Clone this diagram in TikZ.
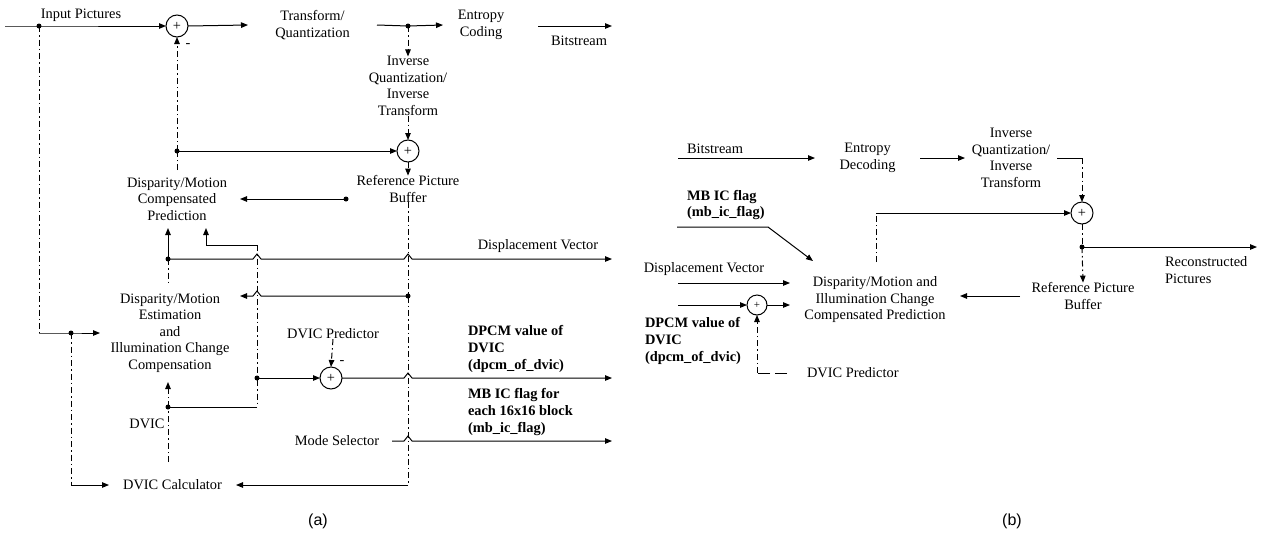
\documentclass[tikz,border=0pt]{standalone}
\usepackage{fontspec}
\setmainfont{Liberation Serif}
\newfontfamily\labsans{Liberation Sans}
\usetikzlibrary{arrows.meta}
\begin{document}
\begin{tikzpicture}[x=1pt,y=-1pt,
  every node/.style={font=\fontsize{14.4}{16.5}\selectfont, inner sep=0pt, outer sep=0pt},
  lbl/.style={align=center},
  bl/.style={align=left, anchor=west, font=\fontsize{14.4}{16.8}\selectfont\bfseries},
  ln/.style={line width=1pt},
  arr/.style={line width=1pt, -{Triangle[length=7pt,width=5.5pt]}},
  dd/.style={dash pattern=on 6pt off 3pt on 1.5pt off 3pt},
  jdot/.style={circle, fill, minimum size=5pt, inner sep=0pt},
  sumc/.style={circle, draw, line width=1pt, minimum size=22pt, inner sep=0pt},
  sublbl/.style={font=\labsans\fontsize{16}{18}\selectfont}
]
\useasboundingbox (0,0) rectangle (1263,544);

% ================= (a) =================
\coordinate (inL) at (5,26);
\node[jdot] (j0) at (39,26) {};
\node[lbl] (inp) at (81,15) {Input Pictures};
\node[sumc] (s1) at (177,26) {+};
\node (m1) at (188,46) {-};
\node[lbl, minimum width=129, minimum height=40] (tq) at (312.5,25) {Transform/\\Quantization};
\node[jdot] (j1) at (408,26) {};
\node[lbl, minimum width=76, minimum height=40] (ec) at (481,25) {Entropy\\Coding};
\coordinate (bsS) at (538,26);
\coordinate (bsE) at (612,26);
\node[lbl] (bs) at (579,41) {Bitstream};
\node[lbl] (iq) at (408,86) {Inverse\\Quantization/\\Inverse\\Transform};
\node[sumc] (s2) at (408,151) {+};
\node[lbl] (rpb) at (408,189) {Reference Picture\\Buffer};
\node[jdot] (j2) at (177,151) {};
\node[jdot] (j3) at (346,199) {};
\node[lbl, minimum width=126, minimum height=58] (dmcp) at (177,199) {Disparity/Motion\\Compensated\\Prediction};
\node[jdot] (j4) at (168,259) {};
\coordinate (h1) at (206,245);
\coordinate (h2) at (257,245);
\node[lbl] (dv) at (538,246) {Displacement Vector};
\coordinate (oDV) at (612,259);
\node[lbl, minimum width=140, minimum height=98] (est) at (170,333) {Disparity/Motion\\Estimation\\and\\Illumination Change\\Compensation};
\node[jdot] (j5) at (408,296) {};
\node[lbl] (dp) at (333,334) {DVIC Predictor};
\node[jdot] (j6) at (257,378) {};
\node[sumc] (s3) at (331,378) {+};
\node (m3) at (342,363) {-};
\coordinate (oDP) at (612,378);
\node[bl] (dpcm) at (468,349) {DPCM value of\\DVIC\\(dpcm\_of\_dvic)};
\node[bl] (mbf) at (468,412) {MB IC flag for\\each 16x16 block\\(mb\_ic\_flag)};
\node[lbl] (ms) at (337,441) {Mode Selector};
\coordinate (msS) at (392,441);
\coordinate (oMS) at (612,441);
\node[jdot] (j7) at (168,407) {};
\coordinate (c257) at (257,407);
\node[lbl] (dvl) at (147,424) {DVIC};
\node[jdot] (j8) at (71,333) {};
\coordinate (c39) at (39,333);
\node[lbl, minimum width=127, minimum height=46] (calc) at (172.5,485) {DVIC Calculator};
\coordinate (c71) at (71,485);
\coordinate (c408) at (408,485);
\node[sublbl] (la) at (318,521) {(a)};

% connectors (a)
\draw[arr] (inL) -- (j0.center) -- (s1.west);
\draw[arr] (s1.east) -- (tq.west);
\draw[ln] (tq.east) -- (j1.center);
\draw[arr] (j1.center) -- (ec.west);
\draw[arr] (bsS) -- (bsE);
\draw[arr,dd] (j1.center) -- (iq.north);
\draw[arr,dd] (iq.south) -- (s2.north);
\draw[arr,dd] (s2.south) -- (rpb.north);
\draw[arr] (j2.center) -- (s2.west);
\draw[arr,dd] (j2.center) -- (s1.south);
\draw[ln,dd] (dmcp.north -| j2) -- (j2.center);
\draw[arr] (j3.center) -- (j3.center -| dmcp.east);
\draw[arr] (j4.center) -- (j4 |- dmcp.south);
\draw[ln,dd] (j4.center) -- (j4 |- est.north);
\draw[arr] (h2) -- (h1) -- (h1 |- dmcp.south);
\draw[ln,dd] (h2) -- (j6.center) -- (c257);
\draw[ln] (c257) -- (j7.center);
\draw[arr] (j4.center) -- (253,259) -- (257,254) -- (261,259) -- (404,259) -- (408,254) -- (412,259) -- (oDV);
\draw[arr] (j5.center) -- (261,296) -- (257,291) -- (253,296) -- (j5 -| est.east);
\draw[arr] (j6.center) -- (s3.west);
\draw[arr,dd] (dp.south) -- (s3.north);
\draw[arr] (s3.east) -- (404,378) -- (408,373) -- (412,378) -- (oDP);
\draw[arr] (msS) -- (404,441) -- (408,436) -- (412,441) -- (oMS);
\draw[ln,dd] (rpb.south) -- (j5.center) -- (c408);
\draw[arr] (c408) -- (calc.east);
\draw[arr,dd] (j7.center) -- (j7 |- est.south);
\draw[ln,dd] (j7 |- calc.north) -- (j7.center);
\draw[ln,dd] (j0.center) -- (c39);
\draw[arr] (c39) -- (j8.center) -- (est.west);
\draw[ln,dd] (j8.center) -- (c71);
\draw[arr] (c71) -- (calc.west);

% ================= (b) =================
\node[lbl] (bs2) at (715,149) {Bitstream};
\coordinate (bs2S) at (678,158);
\node[lbl, minimum width=105, minimum height=40] (ed) at (867.5,158) {Entropy\\Decoding};
\node[lbl, minimum width=92] (iq2) at (1011,158) {Inverse\\Quantization/\\Inverse\\Transform};
\coordinate (c1082) at (1082,158);
\node[sumc] (s4) at (1082,213) {+};
\node[jdot] (j9) at (1082,247) {};
\coordinate (oRec) at (1257,247);
\node[lbl, align=left, anchor=west] (rec) at (1165,270) {Reconstructed\\Pictures};
\node[lbl, minimum width=126] (rpb2) at (1083,296) {Reference Picture\\Buffer};
\node[lbl, minimum width=170, minimum height=76] (dcp2) at (875,300) {Disparity/Motion and\\Illumination Change\\Compensated Prediction};
\coordinate (c876) at (876,213);
\node[bl] (mb2) at (687,205) {MB IC flag\\(mb\_ic\_flag)};
\coordinate (mbS) at (677,227);
\coordinate (mbK) at (768,227);
\coordinate (mbT) at (813,261);
\node[lbl] (dv2) at (704,269) {Displacement Vector};
\coordinate (dvS) at (678,283);
\coordinate (dpS) at (678,305);
\node[sumc, minimum size=20pt, font=\fontsize{11}{12}\selectfont] (s5) at (757,305) {+};
\node[bl] (dpcm2) at (645,341) {DPCM value of\\DVIC\\(dpcm\_of\_dvic)};
\node[lbl, anchor=west] (dp2) at (807,373) {DVIC Predictor};
\coordinate (dpK) at (757,373);
\node[sublbl] (lb) at (1012,521) {(b)};

% connectors (b)
\draw[arr] (bs2S) -- (ed.west);
\draw[arr] (ed.east) -- (iq2.west);
\draw[ln] (iq2.east) -- (c1082);
\draw[arr,dd] (c1082) -- (s4.north);
\draw[ln,dd] (dcp2.north -| c876) -- (c876);
\draw[arr] (c876) -- (s4.west);
\draw[ln,dd] (s4.south) -- (j9.center);
\draw[arr] (j9.center) -- (oRec);
\draw[arr,dd] (j9.center) -- (rpb2.north);
\draw[arr] (rpb2.west) -- (rpb2.west -| dcp2.east);
\draw[arr] (mbS) -- (mbK) -- (mbT);
\draw[arr] (dvS) -- (dvS -| dcp2.west);
\draw[arr] (dpS) -- (s5.west);
\draw[arr] (s5.east) -- (s5.east -| dcp2.west);
\draw[ln, dash pattern=on 12pt off 5pt, shorten <=20pt] (dp2.west) -- (dpK);
\draw[arr,dd] (dpK) -- (s5.south);
\end{tikzpicture}
\end{document}
